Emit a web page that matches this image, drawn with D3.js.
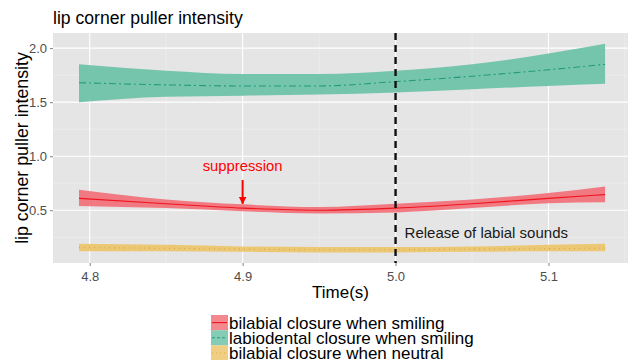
<!DOCTYPE html>
<html>
<head>
<meta charset="utf-8">
<script src="https://cdn.jsdelivr.net/npm/d3@7"></script>
<style>
  body { margin: 0; background: #fff; }
  text { font-family: "Liberation Sans", Arial, sans-serif; }
</style>
</head>
<body>
<div class="chart"></div>
<script>
// chart size
var width = 631;
var height = 360;
var margin = {top: 33, right: 3, bottom: 97, left: 53};
var pw = width - margin.left - margin.right;
var ph = height - margin.top - margin.bottom;

// data
var times = [4.793, 4.85, 4.9, 4.95, 5.0, 5.05, 5.1, 5.137];

var bilabialSmileMean  = [0.61, 0.56, 0.52, 0.50, 0.52, 0.56, 0.61, 0.645];
var bilabialSmileLow   = [0.54, 0.52, 0.49, 0.47, 0.48, 0.52, 0.565, 0.575];
var bilabialSmileHigh  = [0.69, 0.60, 0.555, 0.53, 0.56, 0.60, 0.66, 0.72];

var labiodentalMean = [1.68, 1.66, 1.65, 1.65, 1.69, 1.74, 1.80, 1.85];
var labiodentalLow  = [1.50, 1.55, 1.56, 1.57, 1.59, 1.62, 1.65, 1.67];
var labiodentalHigh = [1.85, 1.79, 1.76, 1.76, 1.79, 1.85, 1.95, 2.04];

var bilabialNeutralMean = [0.155, 0.148, 0.14, 0.135, 0.135, 0.14, 0.145, 0.15];
var bilabialNeutralLow  = [0.12, 0.12, 0.115, 0.11, 0.11, 0.115, 0.12, 0.12];
var bilabialNeutralHigh = [0.19, 0.18, 0.165, 0.16, 0.16, 0.165, 0.18, 0.19];

var seriesNames = ["bilabial closure when smiling", "labiodental closure when smiling", "bilabial closure when neutral"];
var xTicks = [4.8, 4.9, 5.0, 5.1];
var xMinor = [4.85, 4.95, 5.05, 5.15];
var yTicks = [0.5, 1.0, 1.5, 2.0];
var yMinor = [0.25, 0.75, 1.25, 1.75];
var releaseTime = 5.0;
var suppressionTime = 4.9;

var series = [
  {name: seriesNames[0], mean: bilabialSmileMean, low: bilabialSmileLow, high: bilabialSmileHigh,
   fill: "#F26D75", fillOpacity: 0.9, line: "#F0141E", dash: null},
  {name: seriesNames[1], mean: labiodentalMean, low: labiodentalLow, high: labiodentalHigh,
   fill: "#6FC3A9", fillOpacity: 0.95, line: "#239B7A", dash: "7,3,2,3"},
  {name: seriesNames[2], mean: bilabialNeutralMean, low: bilabialNeutralLow, high: bilabialNeutralHigh,
   fill: "#EDC66E", fillOpacity: 0.95, line: "#D9A93B", dash: "1,4"}
];

const svg = d3.select(".chart")
  .append("svg")
  .attr("width", width)
  .attr("height", height);

const g = svg.append("g")
  .attr("transform", "translate(" + margin.left + "," + margin.top + ")");

var xScale = d3.scaleLinear().domain([4.776, 5.152]).range([0, pw]);
var yScale = d3.scaleLinear().domain([0.012, 2.14]).range([ph, 0]);

// panel
g.append("rect")
  .attr("width", pw)
  .attr("height", ph)
  .attr("fill", "#E5E5E5");

// grid
g.selectAll(".yminor").data(yMinor).enter().append("line")
  .attr("x1", 0).attr("x2", pw)
  .attr("y1", d => yScale(d)).attr("y2", d => yScale(d))
  .attr("stroke", "#F2F2F2").attr("stroke-width", 0.6);
g.selectAll(".xminor").data(xMinor).enter().append("line")
  .attr("y1", 0).attr("y2", ph)
  .attr("x1", d => xScale(d)).attr("x2", d => xScale(d))
  .attr("stroke", "#F2F2F2").attr("stroke-width", 0.6);
g.selectAll(".ymajor").data(yTicks).enter().append("line")
  .attr("x1", 0).attr("x2", pw)
  .attr("y1", d => yScale(d)).attr("y2", d => yScale(d))
  .attr("stroke", "#FFFFFF").attr("stroke-width", 1.1);
g.selectAll(".xmajor").data(xTicks).enter().append("line")
  .attr("y1", 0).attr("y2", ph)
  .attr("x1", d => xScale(d)).attr("x2", d => xScale(d))
  .attr("stroke", "#FFFFFF").attr("stroke-width", 1.1);

// ribbons and lines
var area = d3.area()
  .x(d => xScale(d.t))
  .y0(d => yScale(d.lo))
  .y1(d => yScale(d.hi))
  .curve(d3.curveMonotoneX);
var line = d3.line()
  .x(d => xScale(d.t))
  .y(d => yScale(d.m))
  .curve(d3.curveMonotoneX);

series.forEach(s => {
  var pts = times.map((t, i) => ({t: t, m: s.mean[i], lo: s.low[i], hi: s.high[i]}));
  g.append("path").datum(pts)
    .attr("d", area)
    .attr("fill", s.fill)
    .attr("fill-opacity", s.fillOpacity);
  g.append("path").datum(pts)
    .attr("d", line)
    .attr("fill", "none")
    .attr("stroke", s.line)
    .attr("stroke-width", 1.1)
    .attr("stroke-dasharray", s.dash);
});

// release line
g.append("line")
  .attr("x1", xScale(releaseTime)).attr("x2", xScale(releaseTime))
  .attr("y1", 0).attr("y2", ph)
  .attr("stroke", "#111")
  .attr("stroke-width", 2.4)
  .attr("stroke-dasharray", "7,5");

g.append("text")
  .attr("x", xScale(releaseTime) + 9)
  .attr("y", yScale(0.24))
  .attr("font-size", 15)
  .attr("fill", "#1a1a1a")
  .text("Release of labial sounds");

// suppression annotation
svg.append("defs").append("marker")
  .attr("id", "arrow")
  .attr("viewBox", "0 0 10 10")
  .attr("refX", 9).attr("refY", 5)
  .attr("markerWidth", 4).attr("markerHeight", 4.5)
  .attr("orient", "auto")
  .append("path")
  .attr("d", "M0,0 L10,5 L0,10 z")
  .attr("fill", "#FF0000");

g.append("text")
  .attr("x", xScale(suppressionTime))
  .attr("y", yScale(0.865))
  .attr("text-anchor", "middle")
  .attr("font-size", 14.8)
  .attr("fill", "#FF0000")
  .text("suppression");
g.append("line")
  .attr("x1", xScale(suppressionTime)).attr("x2", xScale(suppressionTime))
  .attr("y1", yScale(0.78)).attr("y2", yScale(0.56))
  .attr("stroke", "#FF0000")
  .attr("stroke-width", 2)
  .attr("marker-end", "url(#arrow)");

// axes
const xAxis = d3.axisBottom(xScale).tickValues(xTicks).tickFormat(d3.format(".1f")).tickSize(3).tickSizeOuter(0);
const yAxis = d3.axisLeft(yScale).tickValues(yTicks).tickFormat(d3.format(".1f")).tickSize(3).tickSizeOuter(0);

var xg = g.append("g").attr("transform", "translate(0," + ph + ")").call(xAxis);
var yg = g.append("g").call(yAxis);
[xg, yg].forEach(a => {
  a.select(".domain").remove();
  a.selectAll(".tick line").attr("stroke", "#7F7F7F");
  a.selectAll(".tick text")
    .attr("fill", "#4D4D4D")
    .attr("font-size", 13)
    .attr("font-family", "Liberation Sans, Arial, sans-serif");
});
xg.selectAll(".tick text").attr("dy", "0.95em");

// titles
svg.append("text")
  .attr("x", margin.left)
  .attr("y", 24)
  .attr("font-size", 17.6)
  .attr("fill", "#000")
  .text("lip corner puller intensity");

svg.append("text")
  .attr("transform", "translate(28," + (margin.top + ph / 2) + ") rotate(-90)")
  .attr("text-anchor", "middle")
  .attr("font-size", 17.8)
  .attr("fill", "#000")
  .text("lip corner puller intensity");

svg.append("text")
  .attr("x", margin.left + pw / 2)
  .attr("y", 298)
  .attr("text-anchor", "middle")
  .attr("font-size", 17)
  .attr("fill", "#000")
  .text("Time(s)");

// legend
var legend = svg.append("g").attr("transform", "translate(211,315)");
var row = 15.2;
series.forEach((s, i) => {
  var lg = legend.append("g").attr("transform", "translate(0," + (i * row) + ")");
  lg.append("rect")
    .attr("width", 17).attr("height", row)
    .attr("fill", s.fill)
    .attr("fill-opacity", s.fillOpacity * 0.9);
  lg.append("line")
    .attr("x1", 1).attr("x2", 16)
    .attr("y1", row / 2).attr("y2", row / 2)
    .attr("stroke", s.line)
    .attr("stroke-width", 1.1)
    .attr("stroke-dasharray", s.dash ? (i === 1 ? "3,2" : "1,3") : null);
  lg.append("text")
    .attr("x", 18)
    .attr("y", row / 2)
    .attr("dy", "0.36em")
    .attr("font-size", 17)
    .attr("fill", "#000")
    .text(s.name);
});
</script>
</body>
</html>
